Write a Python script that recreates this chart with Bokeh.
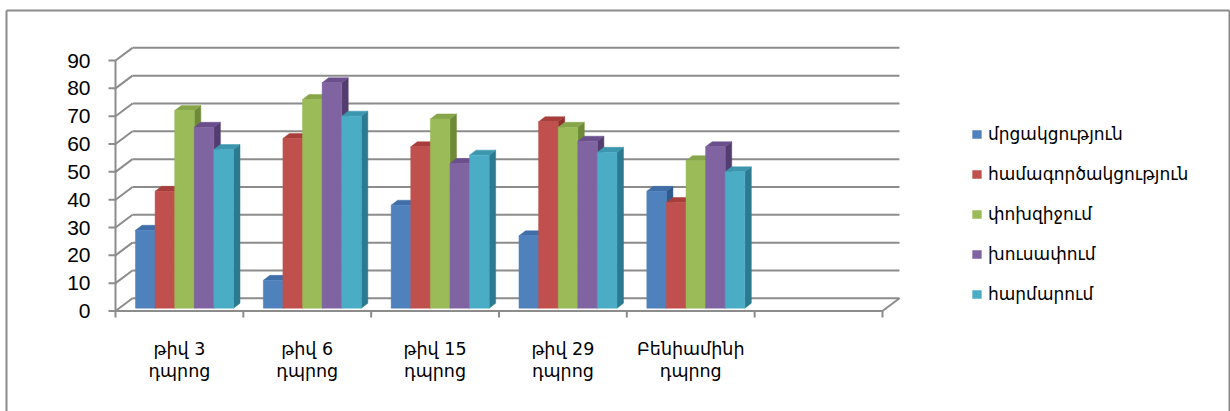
from bokeh.plotting import figure
from bokeh.models import Range1d, Legend, LegendItem
from bokeh.core.properties import value
from bokeh.embed import file_html
from bokeh.resources import INLINE

# ---------------- data ----------------
categories = ["թիվ 3\nդպրոց", "թիվ 6\nդպրոց", "թիվ 15\nդպրոց", "թիվ 29\nդպրոց", "Բենիամինի\nդպրոց"]
n_slots = 6  # the chart has one empty category slot at the end
series_names = ["մրցակցություն", "համագործակցություն", "փոխզիջում", "խուսափում", "հարմարում"]
mrcakcutyun = [28, 10, 37, 26, 42]
hamagortsakcutyun = [42, 61, 58, 67, 38]
pokhzijum = [71, 75, 68, 65, 53]
khusapum = [65, 81, 52, 60, 58]
harmarum = [57, 69, 55, 56, 49]
series_values = [mrcakcutyun, hamagortsakcutyun, pokhzijum, khusapum, harmarum]
y_ticks = [0, 10, 20, 30, 40, 50, 60, 70, 80, 90]

front_colors = ["#4F81BD", "#C0504D", "#9BBB59", "#8064A2", "#4BACC6"]
top_colors = ["#3F6EA8", "#A83E3B", "#87A64A", "#6A4F8C", "#3B96AE"]
side_colors = ["#2E5A8C", "#8C2F2D", "#6E8A37", "#533D70", "#2C7A90"]

# ---------------- geometry (layout) ----------------
W, H = 1230, 411
PX_X = 127.83      # pixels per category slot
PX_Y = 2.783       # pixels per value unit
OX, OY = 115.0, 310.5  # canvas position of the front-plane origin (from top-left)

x_start = -OX / PX_X
x_end = (W - OX) / PX_X
y_start = -(H - OY) / PX_Y
y_end = OY / PX_Y

WDX, WDY = 17.0 / PX_X, 12.7 / PX_Y   # back wall offset
BDX, BDY = 6.5 / PX_X, 5.0 / PX_Y     # bar depth
BASE = 2.8 / PX_Y                     # bar front-face bottom
OFF = 20.0 / PX_X                     # first bar offset in a slot
BW = 19.6 / PX_X                      # bar width

GRID = "#8c8c8c"

p = figure(width=W, height=H, output_backend="svg", toolbar_location=None,
           x_range=Range1d(x_start, x_end), y_range=Range1d(y_start, y_end),
           x_axis_type=None, y_axis_type=None, min_border=0,
           outline_line_color=None, background_fill_color="white")
p.xgrid.visible = False
p.ygrid.visible = False

# back wall gridlines
p.segment(x0=[WDX] * len(y_ticks), y0=[t + WDY for t in y_ticks],
          x1=[n_slots + WDX] * len(y_ticks), y1=[t + WDY for t in y_ticks],
          line_color=GRID, line_width=2)
# left wall diagonals
p.segment(x0=[0] * len(y_ticks), y0=y_ticks,
          x1=[WDX] * len(y_ticks), y1=[t + WDY for t in y_ticks],
          line_color=GRID, line_width=2)
# floor right edge diagonal
p.segment(x0=[n_slots], y0=[0], x1=[n_slots + WDX], y1=[WDY], line_color=GRID, line_width=2)
# front value axis line and floor front edge
p.segment(x0=[0, 0], y0=[0, 0], x1=[0, n_slots], y1=[y_ticks[-1], 0], line_color=GRID, line_width=2)
# value ticks
p.segment(x0=[-7.0 / PX_X] * len(y_ticks), y0=y_ticks, x1=[0] * len(y_ticks), y1=y_ticks,
          line_color=GRID, line_width=2)
# category boundary ticks
bounds = list(range(n_slots + 1))
p.segment(x0=bounds, y0=[0] * len(bounds), x1=bounds, y1=[-6.5 / PX_Y] * len(bounds),
          line_color=GRID, line_width=2)

# bars
legend_items = []
for i, (name, vals) in enumerate(zip(series_names, series_values)):
    lefts = [c + OFF + i * BW for c in range(len(vals))]
    rights = [l + BW for l in lefts]
    tops = [v + BASE for v in vals]
    side_xs = [[r, r + BDX, r + BDX, r] for r in rights]
    side_ys = [[BASE, BASE + BDY, t + BDY, t] for t in tops]
    top_xs = [[l, r, r + BDX, l + BDX] for l, r in zip(lefts, rights)]
    top_ys = [[t, t, t + BDY, t + BDY] for t in tops]
    p.patches(side_xs, side_ys, fill_color=side_colors[i], line_color=side_colors[i], line_width=0.5)
    p.patches(top_xs, top_ys, fill_color=top_colors[i], line_color=top_colors[i], line_width=0.5)
    r = p.quad(left=lefts, right=rights, bottom=[BASE] * len(vals), top=tops,
               fill_color=front_colors[i], line_color=front_colors[i], line_width=0.5)
    legend_items.append(LegendItem(label=name, renderers=[r]))

# value tick labels
p.text(x=[-25.0 / PX_X] * len(y_ticks), y=y_ticks, text=[str(t) for t in y_ticks],
       text_align="right", text_baseline="middle", text_font=value("Liberation Sans"),
       text_font_size="21px", text_color="black")

# category labels (two lines)
line1 = [c.split("\n")[0] for c in categories]
line2 = [c.split("\n")[1] for c in categories]
centers = [k + 0.5 for k in range(len(categories))]
p.text(x=centers, y=[-37.5 / PX_Y] * len(centers), text=line1, text_align="center",
       text_baseline="middle", text_font=value("DejaVu Sans"), text_font_size="17.5px", text_color="black")
p.text(x=centers, y=[-60.0 / PX_Y] * len(centers), text=line2, text_align="center",
       text_baseline="middle", text_font=value("DejaVu Sans"), text_font_size="17.5px", text_color="black")

# legend
legend = Legend(items=legend_items, location=(971, 107), orientation="vertical",
                glyph_width=11, glyph_height=10, label_height=20, spacing=20,
                label_standoff=6, padding=0, margin=0,
                label_text_font="DejaVu Sans", label_text_font_size="17px",
                label_text_color="black", border_line_color=None, background_fill_alpha=0)
p.add_layout(legend)

# outer chart border (left, top, right)
bx0 = x_start + 6.0 / PX_X
bx1 = x_end - 1.0 / PX_X
by1 = y_end - 10.0 / PX_Y
p.segment(x0=[bx0, bx0, bx1], y0=[y_start, by1, by1], x1=[bx0, bx1, bx1], y1=[by1, by1, y_start],
          line_color="#8a8a8a", line_width=2)

open("out.html", "w").write(file_html(p, INLINE))
